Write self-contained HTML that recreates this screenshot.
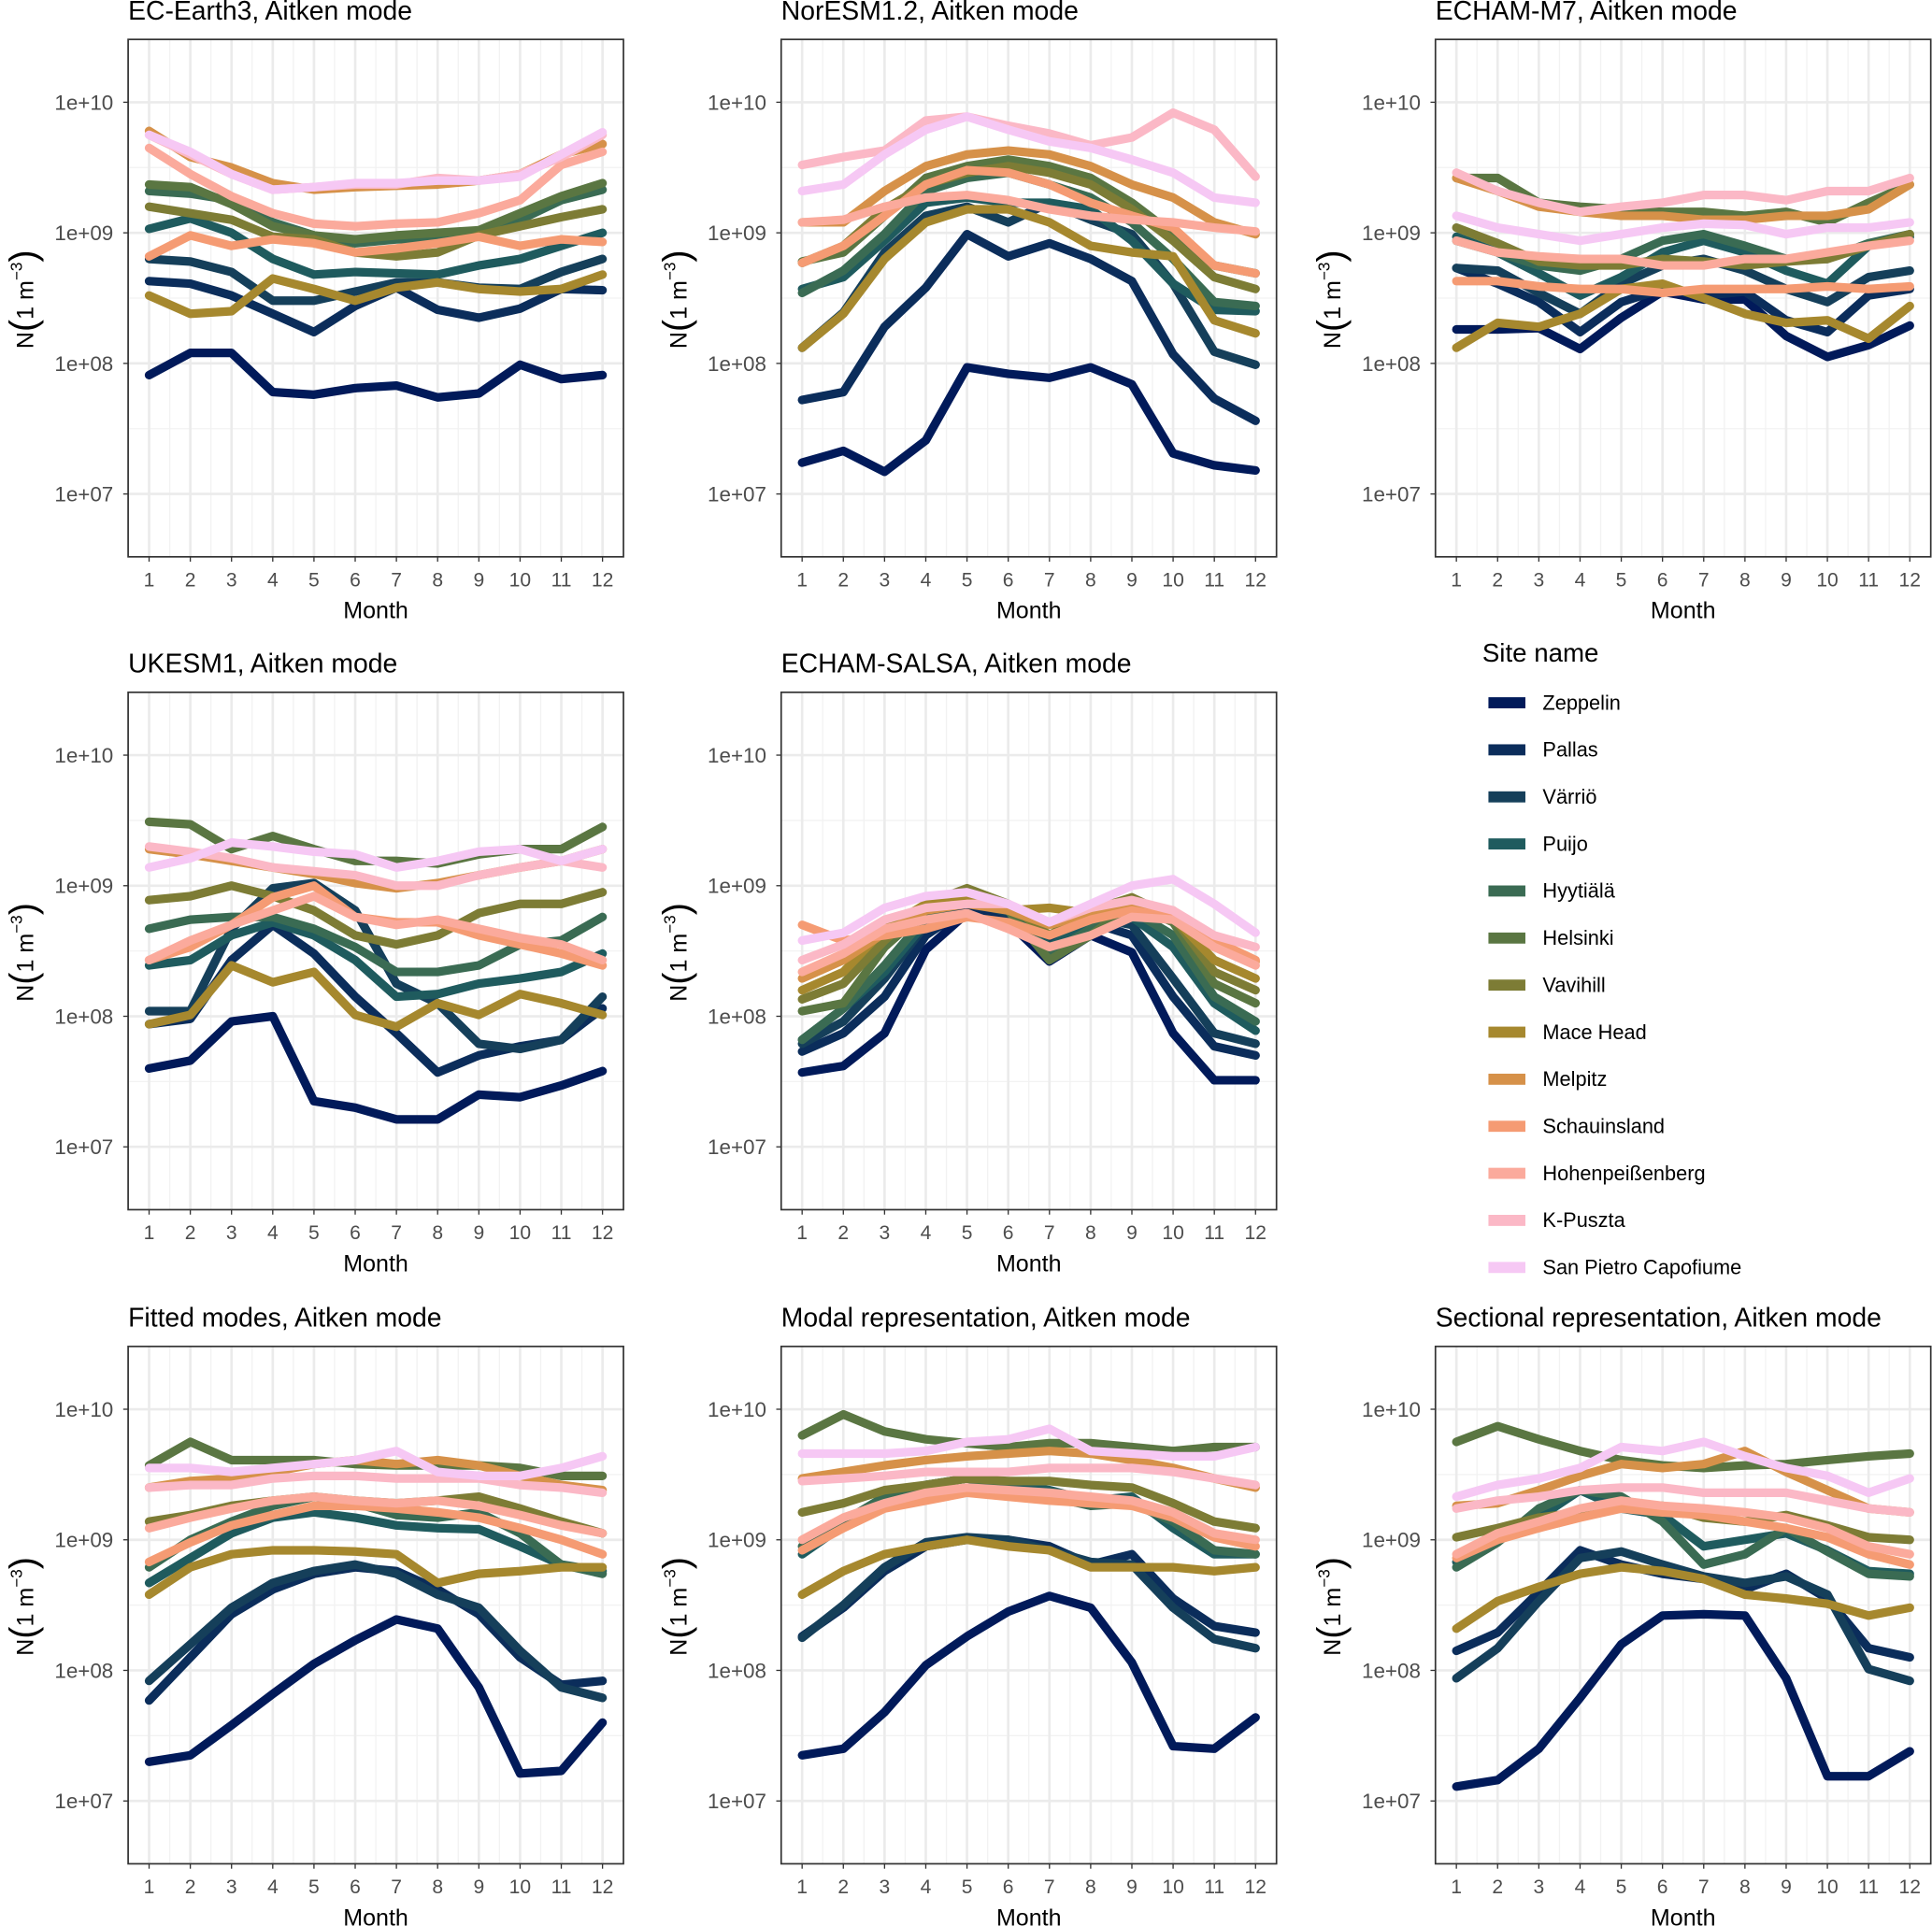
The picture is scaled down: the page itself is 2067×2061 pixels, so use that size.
<!DOCTYPE html>
<html><head><meta charset="utf-8"><style>
html,body{margin:0;padding:0;background:#fff}
svg{display:block}
text{font-family:"Liberation Sans",Arial,sans-serif}
</style></head><body>
<svg id="fig" xmlns="http://www.w3.org/2000/svg" width="2067" height="2061" viewBox="0 0 1568 1563.5" preserveAspectRatio="none"></svg>
<script>
const months=[1,2,3,4,5,6,7,8,9,10,11,12];
const sites=["Zeppelin","Pallas","Värriö","Puijo","Hyytiälä","Helsinki","Vavihill","Mace Head","Melpitz","Schauinsland","Hohenpeißenberg","K-Puszta","San Pietro Capofiume"];
const siteColors=["#011a5a","#0b2d5b","#153f5a","#1f5b5e","#3a6b53","#5a7642","#7d7c35","#a6882e","#d69149","#f59b73","#fbaa9c","#fbb8c6","#f6c8f4"];
const panelTitles=["EC-Earth3, Aitken mode","NorESM1.2, Aitken mode","ECHAM-M7, Aitken mode","UKESM1, Aitken mode","ECHAM-SALSA, Aitken mode","Fitted modes, Aitken mode","Modal representation, Aitken mode","Sectional representation, Aitken mode"];
const yTickExp=[10,9,8,7];
const yTickLabels=["1e+10","1e+09","1e+08","1e+07"];
// log10(N) per site, per month
const ecEarth3=[
[7.91,8.08,8.08,7.78,7.76,7.81,7.83,7.74,7.77,7.99,7.88,7.91],
[8.63,8.61,8.52,8.38,8.24,8.44,8.58,8.41,8.35,8.42,8.57,8.56],
[8.80,8.78,8.70,8.48,8.48,8.55,8.62,8.62,8.58,8.57,8.70,8.80],
[9.03,9.11,9.00,8.80,8.68,8.70,8.69,8.68,8.75,8.80,8.90,9.00],
[9.32,9.30,9.25,9.08,8.98,8.92,8.95,8.95,9.00,9.10,9.25,9.33],
[9.37,9.35,9.22,9.05,8.98,8.95,8.98,9.00,9.02,9.15,9.28,9.38],
[9.20,9.15,9.10,8.97,8.95,8.85,8.82,8.85,8.98,9.05,9.12,9.18],
[8.52,8.38,8.40,8.65,8.57,8.48,8.58,8.62,8.57,8.55,8.57,8.68],
[9.78,9.58,9.50,9.38,9.33,9.35,9.36,9.37,9.40,9.45,9.60,9.68],
[8.82,8.98,8.90,8.95,8.92,8.85,8.88,8.92,8.97,8.90,8.95,8.93],
[9.65,9.45,9.28,9.15,9.07,9.05,9.07,9.08,9.15,9.25,9.52,9.62],
[9.75,9.60,9.45,9.33,9.35,9.37,9.37,9.42,9.40,9.45,9.58,9.75],
[9.75,9.62,9.45,9.33,9.35,9.38,9.38,9.40,9.40,9.43,9.60,9.77]];
const norEsm=[
[7.24,7.33,7.17,7.41,7.97,7.92,7.89,7.97,7.84,7.31,7.22,7.18],
[7.72,7.78,8.28,8.58,8.99,8.82,8.92,8.80,8.63,8.07,7.73,7.56],
[8.12,8.39,8.85,9.13,9.20,9.08,9.23,9.10,8.99,8.61,8.09,7.99],
[8.57,8.66,8.94,9.23,9.27,9.23,9.23,9.18,8.94,8.61,8.41,8.40],
[8.54,8.71,8.99,9.32,9.42,9.46,9.37,9.27,9.08,8.80,8.47,8.44],
[8.78,8.85,9.13,9.42,9.51,9.56,9.51,9.42,9.23,8.99,8.75,8.69],
[8.77,8.90,9.18,9.37,9.46,9.51,9.46,9.37,9.18,8.94,8.66,8.57],
[8.12,8.38,8.80,9.08,9.18,9.18,9.08,8.90,8.85,8.82,8.33,8.23],
[9.08,9.08,9.32,9.51,9.60,9.63,9.60,9.51,9.37,9.27,9.08,8.99],
[8.77,8.90,9.13,9.37,9.48,9.46,9.37,9.23,9.13,9.04,8.75,8.69],
[9.08,9.10,9.20,9.27,9.29,9.25,9.18,9.13,9.10,9.08,9.04,9.01],
[9.52,9.58,9.63,9.86,9.89,9.82,9.76,9.67,9.73,9.92,9.79,9.43],
[9.32,9.37,9.60,9.79,9.89,9.79,9.70,9.65,9.56,9.46,9.27,9.23]];
const echamM7=[
[8.26,8.26,8.27,8.11,8.35,8.55,8.49,8.49,8.21,8.05,8.14,8.29],
[8.73,8.61,8.47,8.24,8.47,8.57,8.52,8.55,8.33,8.24,8.52,8.57],
[8.73,8.71,8.54,8.38,8.61,8.75,8.80,8.71,8.57,8.47,8.66,8.71],
[8.97,8.85,8.69,8.52,8.66,8.85,8.94,8.85,8.71,8.61,8.90,8.97],
[8.94,8.85,8.75,8.71,8.80,8.94,8.99,8.90,8.80,8.80,8.92,8.99],
[9.42,9.42,9.23,9.20,9.18,9.16,9.16,9.13,9.16,9.08,9.23,9.37],
[9.04,8.92,8.78,8.75,8.75,8.80,8.78,8.75,8.78,8.80,8.90,8.99],
[8.12,8.31,8.28,8.38,8.57,8.61,8.50,8.38,8.31,8.33,8.19,8.44],
[9.42,9.32,9.20,9.16,9.13,9.13,9.10,9.10,9.13,9.13,9.18,9.37],
[8.63,8.63,8.59,8.57,8.57,8.54,8.57,8.57,8.57,8.59,8.57,8.59],
[8.94,8.85,8.82,8.80,8.80,8.75,8.75,8.80,8.80,8.85,8.90,8.94],
[9.46,9.32,9.23,9.16,9.20,9.23,9.29,9.29,9.25,9.32,9.32,9.42],
[9.13,9.04,8.99,8.94,8.99,9.04,9.07,9.06,8.99,9.04,9.04,9.08]];
const ukesm=[
[7.60,7.66,7.96,8.00,7.35,7.30,7.21,7.21,7.40,7.38,7.47,7.58],
[7.94,7.98,8.43,8.70,8.48,8.15,7.87,7.57,7.70,7.77,7.82,8.06],
[8.04,8.04,8.67,8.98,9.02,8.81,8.25,8.10,7.79,7.75,7.82,8.15],
[8.39,8.43,8.62,8.72,8.62,8.43,8.15,8.17,8.25,8.29,8.34,8.48],
[8.67,8.74,8.76,8.76,8.67,8.53,8.34,8.34,8.39,8.55,8.58,8.76],
[9.49,9.47,9.28,9.38,9.28,9.19,9.19,9.17,9.24,9.28,9.28,9.45],
[8.89,8.92,9.00,8.92,8.81,8.62,8.55,8.62,8.79,8.86,8.86,8.95],
[7.94,8.01,8.39,8.26,8.34,8.01,7.92,8.10,8.01,8.17,8.10,8.01],
[9.28,9.24,9.19,9.14,9.09,9.02,8.98,9.02,9.08,9.14,9.19,9.28],
[8.43,8.53,8.70,8.91,9.00,8.76,8.72,8.72,8.62,8.55,8.48,8.39],
[8.43,8.58,8.70,8.81,8.92,8.76,8.70,8.74,8.67,8.60,8.55,8.43],
[9.30,9.26,9.21,9.14,9.11,9.08,9.00,9.00,9.08,9.14,9.19,9.14],
[9.14,9.21,9.33,9.30,9.26,9.24,9.14,9.19,9.26,9.28,9.19,9.28]];
const echamSalsa=[
[7.57,7.62,7.87,8.51,8.79,8.72,8.42,8.62,8.49,7.87,7.51,7.51],
[7.73,7.87,8.15,8.62,8.83,8.74,8.53,8.72,8.62,8.15,7.77,7.70],
[7.79,7.96,8.29,8.70,8.89,8.79,8.58,8.76,8.70,8.29,7.87,7.79],
[7.82,8.06,8.34,8.72,8.91,8.81,8.53,8.72,8.76,8.53,8.10,7.89],
[7.82,8.06,8.39,8.76,8.94,8.85,8.48,8.67,8.81,8.62,8.15,7.96],
[8.04,8.10,8.53,8.81,8.95,8.81,8.43,8.62,8.86,8.72,8.25,8.10],
[8.13,8.25,8.58,8.86,8.98,8.86,8.62,8.81,8.91,8.76,8.34,8.20],
[8.20,8.34,8.67,8.86,8.91,8.81,8.83,8.79,8.86,8.76,8.43,8.29],
[8.29,8.43,8.64,8.81,8.86,8.81,8.70,8.79,8.83,8.81,8.53,8.42],
[8.70,8.58,8.62,8.67,8.76,8.72,8.62,8.74,8.81,8.76,8.58,8.43],
[8.34,8.48,8.67,8.74,8.79,8.67,8.53,8.62,8.76,8.74,8.53,8.39],
[8.43,8.55,8.74,8.83,8.86,8.86,8.72,8.83,8.89,8.81,8.62,8.53],
[8.58,8.64,8.83,8.92,8.95,8.86,8.72,8.86,9.00,9.05,8.86,8.64]];
const fittedModes=[
[7.30,7.35,7.58,7.82,8.05,8.23,8.39,8.32,7.87,7.21,7.23,7.60],
[7.77,8.10,8.43,8.62,8.74,8.79,8.76,8.62,8.43,8.10,7.89,7.92],
[7.92,8.20,8.48,8.67,8.76,8.81,8.74,8.58,8.48,8.15,7.87,7.79],
[8.67,8.86,9.05,9.17,9.21,9.17,9.11,9.09,9.08,8.95,8.81,8.76],
[8.79,9.00,9.14,9.26,9.33,9.28,9.19,9.17,9.21,9.05,8.81,8.74],
[9.57,9.75,9.61,9.61,9.61,9.58,9.57,9.57,9.57,9.55,9.49,9.49],
[9.14,9.19,9.26,9.30,9.33,9.30,9.28,9.30,9.33,9.24,9.14,9.05],
[8.58,8.79,8.89,8.92,8.92,8.91,8.89,8.67,8.74,8.76,8.79,8.79],
[9.40,9.45,9.47,9.52,9.58,9.61,9.58,9.61,9.57,9.49,9.42,9.38],
[8.83,8.98,9.11,9.19,9.26,9.26,9.24,9.21,9.17,9.09,9.00,8.89],
[9.09,9.17,9.24,9.30,9.33,9.30,9.28,9.30,9.26,9.19,9.11,9.05],
[9.40,9.42,9.42,9.47,9.49,9.49,9.47,9.47,9.47,9.42,9.40,9.36],
[9.55,9.55,9.52,9.55,9.58,9.61,9.68,9.52,9.49,9.49,9.55,9.64]];
const modalRep=[
[7.35,7.40,7.68,8.04,8.26,8.45,8.57,8.48,8.06,7.42,7.40,7.64],
[8.26,8.48,8.76,8.95,9.00,9.00,8.95,8.81,8.89,8.55,8.34,8.29],
[8.25,8.50,8.79,8.98,9.02,9.00,8.92,8.83,8.81,8.48,8.24,8.17],
[8.89,9.11,9.33,9.42,9.47,9.42,9.38,9.30,9.33,9.09,8.89,8.89],
[8.95,9.14,9.33,9.42,9.47,9.38,9.33,9.26,9.28,9.14,8.92,8.89],
[9.80,9.96,9.83,9.77,9.74,9.71,9.74,9.74,9.71,9.68,9.71,9.71],
[9.21,9.28,9.38,9.42,9.47,9.45,9.45,9.42,9.40,9.28,9.14,9.09],
[8.58,8.76,8.89,8.95,9.00,8.95,8.92,8.79,8.79,8.79,8.76,8.79],
[9.47,9.52,9.57,9.61,9.64,9.66,9.68,9.66,9.61,9.55,9.47,9.40],
[8.92,9.09,9.24,9.30,9.36,9.33,9.30,9.28,9.26,9.17,9.02,8.95],
[9.00,9.17,9.28,9.36,9.40,9.38,9.36,9.33,9.30,9.21,9.05,9.00],
[9.45,9.47,9.49,9.52,9.52,9.52,9.55,9.55,9.55,9.52,9.47,9.42],
[9.66,9.66,9.66,9.68,9.75,9.77,9.85,9.68,9.66,9.64,9.64,9.71]];
const sectionalRep=[
[7.11,7.16,7.40,7.79,8.20,8.42,8.43,8.42,7.94,7.19,7.19,7.38],
[8.15,8.29,8.60,8.92,8.81,8.74,8.70,8.62,8.74,8.55,8.17,8.10],
[7.94,8.17,8.53,8.86,8.91,8.81,8.72,8.67,8.72,8.58,8.01,7.92],
[8.83,9.00,9.17,9.38,9.24,9.19,8.95,9.00,9.05,8.92,8.76,8.74],
[8.79,8.98,9.24,9.38,9.33,9.14,8.81,8.89,9.09,8.91,8.74,8.72],
[9.75,9.87,9.77,9.68,9.61,9.57,9.55,9.57,9.58,9.61,9.64,9.66],
[9.02,9.09,9.17,9.21,9.28,9.26,9.17,9.14,9.19,9.11,9.02,9.00],
[8.32,8.53,8.64,8.74,8.79,8.76,8.70,8.58,8.55,8.51,8.42,8.48],
[9.26,9.28,9.38,9.49,9.58,9.55,9.58,9.68,9.52,9.38,9.24,9.21],
[8.86,9.00,9.09,9.17,9.24,9.21,9.19,9.14,9.09,9.02,8.89,8.81],
[8.89,9.05,9.14,9.24,9.30,9.26,9.24,9.21,9.17,9.09,8.95,8.89],
[9.24,9.30,9.33,9.38,9.40,9.40,9.36,9.36,9.36,9.30,9.24,9.21],
[9.33,9.42,9.47,9.55,9.71,9.68,9.75,9.64,9.55,9.49,9.36,9.47]];
const panelData=[ecEarth3,norEsm,echamM7,ukesm,echamSalsa,fittedModes,modalRep,sectionalRep];

const NS="http://www.w3.org/2000/svg";
const svg=document.getElementById('fig');
function mk(tag,attrs,parent,txt){const e=document.createElementNS(NS,tag);for(const k in attrs)e.setAttribute(k,attrs[k]);if(txt!==undefined)e.textContent=txt;(parent||svg).appendChild(e);return e;}
const colX=[104,634,1165], rowY=[32,562,1093], PW=402, PH=420;
const slots=[[0,0],[1,0],[2,0],[0,1],[1,1],[0,2],[1,2],[2,2]];
const slugs=["ec-earth3","noresm","echam-m7","ukesm1","echam-salsa","fitted-modes","modal","sectional"];
panelData.forEach((data,p)=>{
  const L=colX[slots[p][0]], T=rowY[slots[p][1]];
  const xs=m=>L+17+(m-1)*(PW-34)/11;
  const ys=v=>T+51+(10-v)*106;
  const g=mk('g',{});
  
  
  mk('rect',{x:L,y:T,width:PW,height:PH,fill:'#fff'},g);
  [9.5,8.5,7.5].forEach(v=>mk('line',{x1:L,x2:L+PW,y1:ys(v),y2:ys(v),stroke:'#f2f2f2','stroke-width':1},g));
  for(let m=1.5;m<12;m++)mk('line',{x1:xs(m),x2:xs(m),y1:T,y2:T+PH,stroke:'#f2f2f2','stroke-width':1},g);
  yTickExp.forEach(v=>mk('line',{x1:L,x2:L+PW,y1:ys(v),y2:ys(v),stroke:'#ebebeb','stroke-width':2},g));
  months.forEach(m=>mk('line',{x1:xs(m),x2:xs(m),y1:T,y2:T+PH,stroke:'#ebebeb','stroke-width':2},g));
  data.forEach((vals,s)=>{
    const pts=vals.map((v,i)=>xs(months[i]).toFixed(1)+','+ys(v).toFixed(1)).join(' ');
    const pl=mk('polyline',{points:pts,fill:'none',stroke:siteColors[s],'stroke-width':7,'stroke-linejoin':'round','stroke-linecap':'round'},g);
    
    
  });
  mk('rect',{x:L,y:T,width:PW,height:PH,fill:'none',stroke:'#333','stroke-width':1.3},g);
  yTickExp.forEach((v,i)=>{
    mk('line',{x1:L-4,x2:L,y1:ys(v),y2:ys(v),stroke:'#333','stroke-width':1},g);
    const t=mk('text',{x:L-12,y:ys(v)+6,'text-anchor':'end','font-size':17,fill:'#4d4d4d'},g,yTickLabels[i]);
    
    
  });
  months.forEach(m=>{
    mk('line',{x1:xs(m),x2:xs(m),y1:T+PH,y2:T+PH+4,stroke:'#333','stroke-width':1},g);
    const t=mk('text',{x:xs(m),y:T+PH+24,'text-anchor':'middle','font-size':16,fill:'#4d4d4d'},g,String(m));
    
    
  });
  const tt=mk('text',{x:L,y:T-16,'font-size':21.5,fill:'#000'},g,panelTitles[p]);
  
  
  const xt=mk('text',{x:L+PW/2,y:T+PH+50,'text-anchor':'middle','font-size':19,fill:'#000'},g,'Month');
  
  
  const cy=T+PH/2+1, cx=L-82;
  const yt=mk('text',{x:0,y:0,'text-anchor':'middle','font-size':19,fill:'#000',transform:`translate(${cx+5},${cy}) rotate(-90)`},g);
  
  
  mk('tspan',{},yt,'N');
  mk('tspan',{'font-size':30,dy:2},yt,'(');
  mk('tspan',{'font-size':19,dy:-2},yt,'1  m');
  mk('tspan',{'font-size':13,dy:-9},yt,'−3');
  mk('tspan',{'font-size':30,dy:11},yt,')');
});
const lg=mk('g',{});


const lt=mk('text',{x:1203,y:537,'font-size':21,fill:'#000'},lg,'Site name');


sites.forEach((s,i)=>{
  const y=570+38.2*i;
  const e=mk('g',{},lg);
  
  
  mk('rect',{x:1208,y:y-4,width:30,height:9,fill:siteColors[i]},e);
  mk('text',{x:1252,y:y+6,'font-size':16.5,fill:'#000'},e,s);
});
</script>
</body></html>
